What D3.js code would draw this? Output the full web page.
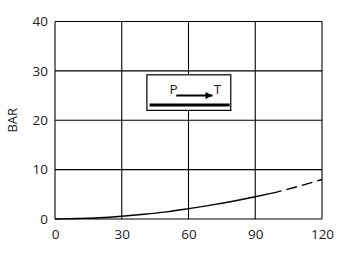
<!DOCTYPE html>
<html>
<head>
<meta charset="utf-8">
<script src="https://cdn.jsdelivr.net/npm/d3@7"></script>
<style>
  body { margin: 0; background: #fff; }
  text { font-family: "Open Sans", sans-serif; fill: #222; }
</style>
</head>
<body>
<svg id="chart" width="345" height="255"></svg>
<script>
// flow (l/min) vs pressure drop (bar)
const flow = [0, 10, 20, 30, 40, 50, 60, 70, 80, 90, 97, 100, 110, 120];
const bar  = [0, 0.1, 0.25, 0.55, 0.95, 1.45, 2.1, 2.8, 3.6, 4.5, 5.2, 5.5, 6.7, 8.0];
const solidUntil = 97; // curve turns dashed after this flow
const xTicks = [0, 30, 60, 90, 120];
const yTicks = [0, 10, 20, 30, 40];
const legendFrom = "P", legendTo = "T";

const svg = d3.select("#chart");
const margin = {left: 55, right: 23, top: 21.5, bottom: 36};
const W = 345, H = 255;

const x = d3.scaleLinear().domain([0, 120]).range([margin.left, W - margin.right]);
const y = d3.scaleLinear().domain([0, 40]).range([H - margin.bottom, margin.top]);

// grid
svg.append("g").selectAll("line").data(xTicks).join("line")
  .attr("x1", d => x(d)).attr("x2", d => x(d))
  .attr("y1", y(0)).attr("y2", y(40))
  .attr("stroke", "#000").attr("stroke-width", 1.1);
svg.append("g").selectAll("line").data(yTicks).join("line")
  .attr("x1", x(0)).attr("x2", x(120))
  .attr("y1", d => y(d)).attr("y2", d => y(d))
  .attr("stroke", "#000").attr("stroke-width", 1.1);

// axes labels only
const xAxis = svg.append("g").attr("transform", `translate(0,${y(0)})`)
  .call(d3.axisBottom(x).tickValues(xTicks).tickSize(0).tickPadding(10));
xAxis.select(".domain").remove();
xAxis.selectAll("text").attr("font-size", 13.5).style("font-family", "Open Sans").attr("fill", "#222");

const yAxis = svg.append("g").attr("transform", `translate(${x(0)},0)`)
  .call(d3.axisLeft(y).tickValues(yTicks).tickSize(0).tickPadding(7));
yAxis.select(".domain").remove();
yAxis.selectAll("text").attr("font-size", 13.5).style("font-family", "Open Sans").attr("fill", "#222");

svg.append("text")
  .attr("transform", `translate(17,${(y(0) + y(40)) / 2}) rotate(-90)`)
  .attr("text-anchor", "middle")
  .attr("font-size", 13)
  .text("BAR");

// curve
const pts = flow.map((f, i) => [f, bar[i]]);
const line = d3.line().x(d => x(d[0])).y(d => y(d[1])).curve(d3.curveMonotoneX);
svg.append("path").datum(pts.filter(d => d[0] <= solidUntil))
  .attr("d", line).attr("fill", "none").attr("stroke", "#000").attr("stroke-width", 1.4);
svg.append("path").datum(pts.filter(d => d[0] >= solidUntil))
  .attr("d", line).attr("fill", "none").attr("stroke", "#000").attr("stroke-width", 1.4)
  .attr("stroke-dasharray", "11,5");

// legend symbol
const lg = svg.append("g");
lg.append("rect")
  .attr("x", x(41.3)).attr("y", y(29.2))
  .attr("width", x(79) - x(41.3)).attr("height", y(22) - y(29.2))
  .attr("fill", "#fff").attr("stroke", "#000").attr("stroke-width", 1.2);
lg.append("line")
  .attr("x1", x(42.5)).attr("x2", x(78.5))
  .attr("y1", y(23.1)).attr("y2", y(23.1))
  .attr("stroke", "#000").attr("stroke-width", 3);
svg.append("defs").append("marker")
  .attr("id", "arrow").attr("viewBox", "0 0 10 10")
  .attr("refX", 10).attr("refY", 5)
  .attr("markerWidth", 4.5).attr("markerHeight", 3.5)
  .attr("orient", "auto").attr("markerUnits", "strokeWidth")
  .append("path").attr("d", "M0,0 L10,5 L0,10 z").attr("fill", "#000");
lg.append("line")
  .attr("x1", x(54.5)).attr("x2", x(70.8))
  .attr("y1", y(25)).attr("y2", y(25))
  .attr("stroke", "#000").attr("stroke-width", 2)
  .attr("marker-end", "url(#arrow)");
lg.append("text").attr("x", x(51.5)).attr("y", y(25.4)).attr("font-size", 13.5).text(legendFrom);
lg.append("text").attr("x", x(71.3)).attr("y", y(25.4)).attr("font-size", 13.5).text(legendTo);
</script>
</body>
</html>
